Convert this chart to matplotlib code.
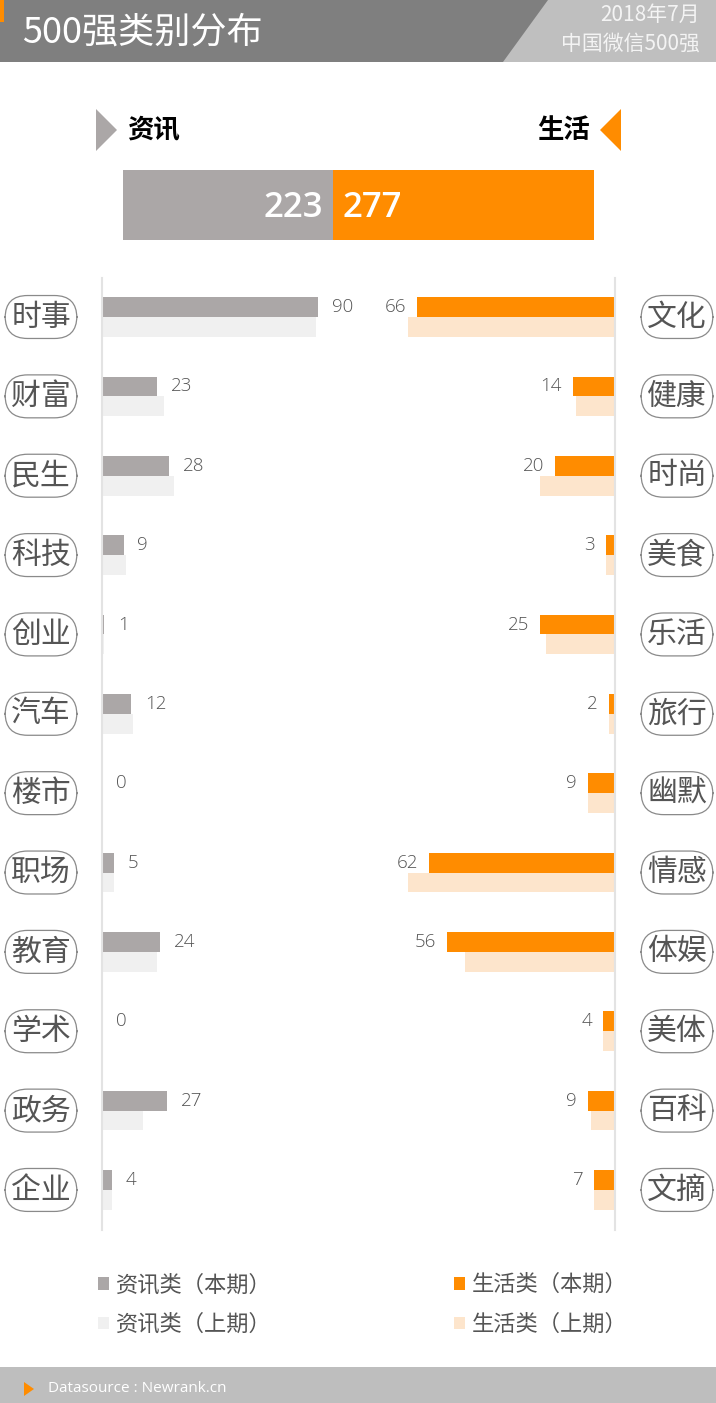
import matplotlib.pyplot as plt
from matplotlib.patches import Polygon, Rectangle
from matplotlib import transforms

plt.rcParams['font.family'] = ['Noto Sans CJK SC', 'DejaVu Sans']

# 数据
info_cats = ['时事', '财富', '民生', '科技', '创业', '汽车', '楼市', '职场', '教育', '学术', '政务', '企业']
info_now = [90, 23, 28, 9, 1, 12, 0, 5, 24, 0, 27, 4]
info_prev = [89, 26, 30, 10, 1, 13, 0, 5, 23, 0, 17, 4]

life_cats = ['文化', '健康', '时尚', '美食', '乐活', '旅行', '幽默', '情感', '体娱', '美体', '百科', '文摘']
life_now = [66, 14, 20, 3, 25, 2, 9, 62, 56, 4, 9, 7]
life_prev = [69, 13, 25, 3, 23, 2, 9, 69, 50, 4, 8, 7]

legend_labels = ['资讯类（本期）', '资讯类（上期）', '生活类（本期）', '生活类（上期）']

GRAY = '#aba7a7'
GRAY_L = '#f0f0f0'
ORANGE = '#ff8c00'
ORANGE_L = '#fde5cc'
TXT = '#555555'

W, H = 716, 1403
fig = plt.figure(figsize=(W / 100, H / 100), dpi=100)


def px_rect(x, y, w, h):
    # 像素坐标(左上为原点) -> figure 比例
    return [x / W, 1 - (y + h) / H, w / W, h / H]


# 背景装饰层
bg = fig.add_axes([0, 0, 1, 1], zorder=-1)
bg.set_xlim(0, W)
bg.set_ylim(H, 0)
bg.axis('off')
bg.add_patch(Rectangle((0, 0), W, 62, color='#7f7f7f', lw=0))
bg.add_patch(Polygon([(548, 0), (W, 0), (W, 62), (503, 62)], closed=True, color='#bfbfbf', lw=0))
bg.add_patch(Rectangle((0, 0), 4, 22, color=ORANGE, lw=0))
bg.text(22, 32, '500强类别分布', color='white', fontsize=26, va='center', ha='left', fontweight='light')
bg.text(700, 15, '2018年7月', color='#f4f4f4', fontsize=15, va='center', ha='right', fontweight='light')
bg.text(700, 44, '中国微信500强', color='#f4f4f4', fontsize=15, va='center', ha='right', fontweight='light')

bg.add_patch(Polygon([(96, 109), (96, 151), (117, 130)], closed=True, color=GRAY, lw=0))
bg.text(127, 131, '资讯', fontsize=19, fontweight='bold', color='black', va='center', ha='left')
bg.add_patch(Polygon([(621, 109), (621, 151), (600, 130)], closed=True, color=ORANGE, lw=0))
bg.text(590, 131, '生活', fontsize=19, fontweight='bold', color='black', va='center', ha='right')

bg.add_patch(Rectangle((0, 1367), W, 36, color='#bebebe', lw=0))
bg.add_patch(Polygon([(24, 1382), (24, 1396), (34, 1389)], closed=True, color=ORANGE, lw=0))
bg.text(48, 1389, 'Datasource : Newrank.cn', color='white', fontsize=11, va='center', ha='left',
        family=['Open Sans', 'DejaVu Sans'])

# 顶部总量条
info_total = sum(info_now)
life_total = sum(life_now)
ax_t = fig.add_axes(px_rect(123, 170, 471, 70))
ax_t.barh(0, info_total, height=1, color=GRAY, lw=0)
ax_t.barh(0, life_total, left=info_total, height=1, color=ORANGE, lw=0)
ax_t.set_xlim(0, info_total + life_total)
ax_t.set_ylim(-0.5, 0.5)
ax_t.axis('off')
ax_t.annotate(str(info_total), (info_total, 0), xytext=(-7, -2), textcoords='offset points',
              ha='right', va='center', color='white', fontsize=25, fontweight='semibold',
              family=['Open Sans', 'DejaVu Sans'])
ax_t.annotate(str(life_total), (info_total, 0), xytext=(7, -2), textcoords='offset points',
              ha='left', va='center', color='white', fontsize=25, fontweight='semibold',
              family=['Open Sans', 'DejaVu Sans'])

# 分类条形图
TOP, BOT = 278, 1230
ROW0, STEP = 317, 79.36
y_top = -(ROW0 - TOP) / STEP
y_bot = (BOT - ROW0) / STEP
bh = 0.25
rows = list(range(len(info_cats)))

LW = 250
ax_l = fig.add_axes(px_rect(102, TOP, LW, BOT - TOP))
ax_l.barh([r - bh / 2 for r in rows], info_now, height=bh, color=GRAY, lw=0, label=legend_labels[0])
ax_l.barh([r + bh / 2 for r in rows], info_prev, height=bh, color=GRAY_L, lw=0, label=legend_labels[1])
ax_l.set_xlim(0, LW / 2.4)
ax_l.set_ylim(y_bot, y_top)

RW = 250
ax_r = fig.add_axes(px_rect(615 - RW, TOP, RW, BOT - TOP))
ax_r.barh([r - bh / 2 for r in rows], life_now, height=bh, color=ORANGE, lw=0, label=legend_labels[2])
ax_r.barh([r + bh / 2 for r in rows], life_prev, height=bh, color=ORANGE_L, lw=0, label=legend_labels[3])
ax_r.set_xlim(RW / 3.0, 0)
ax_r.set_ylim(y_bot, y_top)

for ax, side in ((ax_l, 'left'), (ax_r, 'right')):
    ax.patch.set_alpha(0)
    for s in ax.spines.values():
        s.set_visible(False)
    ax.spines[side].set_visible(True)
    ax.spines[side].set_color('#e3e3e3')
    ax.spines[side].set_linewidth(1.5)
    ax.set_xticks([])
    ax.set_yticks([])

for r, v in zip(rows, info_now):
    ax_l.annotate(str(v), (v, r - bh / 2), xytext=(10, 0), textcoords='offset points',
                  ha='left', va='center', color=TXT, fontsize=13.5, fontweight='light',
                  family=['Open Sans', 'DejaVu Sans'])
for r, v in zip(rows, life_now):
    ax_r.annotate(str(v), (v, r - bh / 2), xytext=(-8, 0), textcoords='offset points',
                  ha='right', va='center', color=TXT, fontsize=13.5, fontweight='light',
                  family=['Open Sans', 'DejaVu Sans'])

# 圆角分类标签
pill = dict(boxstyle='round,pad=0.2,rounding_size=0.75', fc='white', ec='#8a8a8a', lw=0.9)
tl = transforms.blended_transform_factory(fig.transFigure, ax_l.transData)
tr = transforms.blended_transform_factory(fig.transFigure, ax_r.transData)
for r, c in zip(rows, info_cats):
    ax_l.text(41 / W, r, c, transform=tl, ha='center', va='center', fontsize=21.5,
              color=TXT, fontweight='light', bbox=pill, clip_on=False)
for r, c in zip(rows, life_cats):
    ax_r.text(677 / W, r, c, transform=tr, ha='center', va='center', fontsize=21.5,
              color=TXT, fontweight='light', bbox=pill, clip_on=False)

# 图例
h_l, l_l = ax_l.get_legend_handles_labels()
h_r, l_r = ax_r.get_legend_handles_labels()
for hs, ls, x in ((h_l, l_l, 87), (h_r, l_r, 443)):
    fig.legend(hs, ls, loc='upper left', bbox_to_anchor=(x / W, 1 - 1262 / H), frameon=False,
               fontsize=16, labelcolor=TXT, handlelength=0.5, handleheight=0.5,
               handletextpad=0.3, labelspacing=0.75, borderpad=0)

fig.savefig('out.png', dpi=100)
